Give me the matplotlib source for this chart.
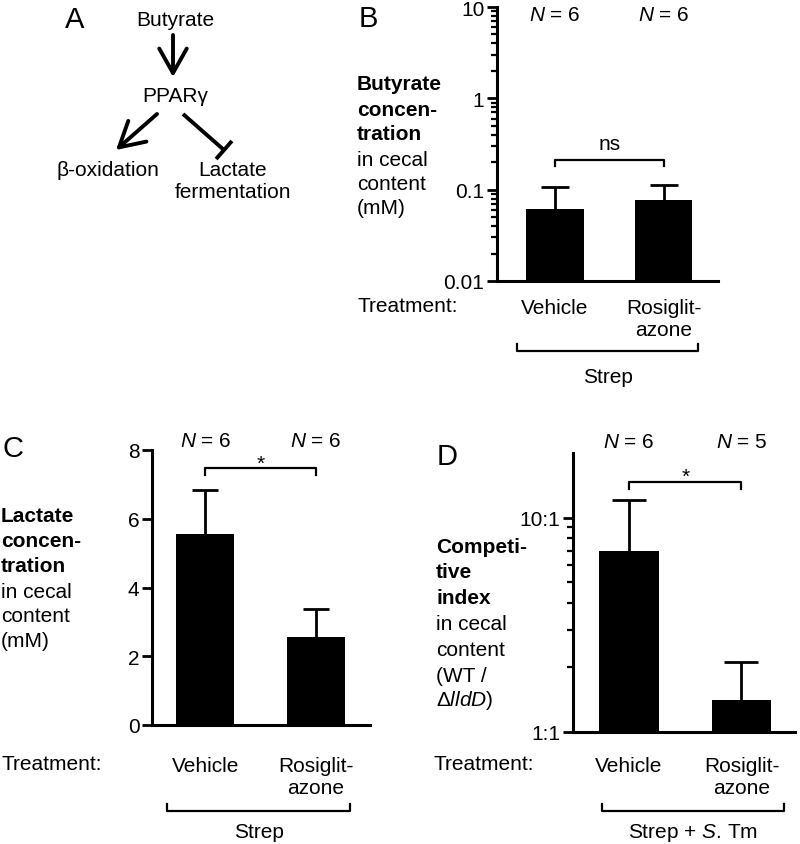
import matplotlib
matplotlib.use('Agg')
import matplotlib.pyplot as plt
import numpy as np
from matplotlib.ticker import LogLocator, NullFormatter, FixedLocator, FixedFormatter

plt.rcParams['font.family'] = 'Liberation Sans'
plt.rcParams['font.size'] = 15
plt.rcParams['mathtext.fontset'] = 'custom'
plt.rcParams['mathtext.rm'] = 'Liberation Sans'
plt.rcParams['mathtext.it'] = 'Liberation Sans:italic'
plt.rcParams['mathtext.bf'] = 'Liberation Sans:bold'

# data
groups = ['Vehicle', 'Rosiglit-\nazone']
butyrate_mean = [0.062, 0.078]
butyrate_top = [0.108, 0.113]
butyrate_n = [6, 6]
lactate_mean = [5.55, 2.56]
lactate_top = [6.83, 3.37]
lactate_n = [6, 6]
ci_mean = [6.95, 1.41]
ci_top = [12.1, 2.12]
ci_n = [6, 5]

W, H = 800, 845
fig = plt.figure(figsize=(W / 100, H / 100), dpi=100)


def fx(x):
    return x / W


def fy(y):
    return 1 - y / H


def ftext(x, y, s, **kw):
    kw.setdefault('va', 'center')
    fig.text(fx(x), fy(y), s, **kw)


def axes_px(left, top, right, bottom):
    return fig.add_axes([fx(left), fy(bottom), (right - left) / W, (bottom - top) / H])


def bar_panel(ax, means, tops, ns, n_y, sig_y, sig_drop, width, xlim, cap):
    x = np.arange(len(groups))
    ax.bar(x, means, width=width, color='black', zorder=2)
    err = np.array(tops) - np.array(means)
    # lower half is hidden behind the bar
    ax.errorbar(x, means, yerr=err, fmt='none', ecolor='black',
                elinewidth=2, capsize=cap, capthick=2, zorder=1)
    ax.set_xlim(*xlim)
    ax.set_xticks(x)
    ax.set_xticklabels(groups)
    for s in ['top', 'right']:
        ax.spines[s].set_visible(False)
    for s in ['left', 'bottom']:
        ax.spines[s].set_linewidth(2.2)
    ax.tick_params(axis='x', length=0, labelsize=15)
    ax.tick_params(axis='y', which='major', direction='out', length=7, width=2, labelsize=15, pad=2)
    ax.tick_params(axis='y', which='minor', direction='out', length=4, width=1.6)
    # N labels
    for xi, n in zip(x, ns):
        ax.text(xi, n_y, '$\\mathit{N}$ = %d' % n, transform=ax.get_xaxis_transform(),
                ha='center', va='center', clip_on=False)
    # significance bracket
    ax.plot([x[0], x[0], x[1], x[1]], [sig_drop, sig_y, sig_y, sig_drop], color='black', lw=1.6,
            clip_on=False)
    return x


# ---------------- Panel A ----------------
axA = fig.add_axes([0, fy(220), 330 / W, 220 / H])
axA.set_xlim(0, 330)
axA.set_ylim(220, 0)
axA.axis('off')
axA.text(75, 20, 'A', fontsize=21, ha='center', va='center')
axA.text(175, 20, 'Butyrate', ha='center', va='center')
axA.text(175, 97, 'PPAR\u03b3', ha='center', va='center')
axA.text(108, 170, '\u03b2-oxidation', ha='center', va='center')
axA.text(233, 170, 'Lactate', ha='center', va='center')
axA.text(233, 193, 'fermentation', ha='center', va='center')
arrow = dict(arrowstyle='->, head_length=0.8, head_width=0.45', lw=2.8, color='black',
             mutation_scale=22, shrinkA=0, shrinkB=0)
axA.annotate('', xy=(173, 78), xytext=(173, 36), arrowprops=arrow)
axA.annotate('', xy=(116, 151), xytext=(157, 115), arrowprops=arrow)
p0 = np.array([183, 115])
p1 = np.array([224, 151])
axA.plot([p0[0], p1[0]], [p0[1], p1[1]], color='black', lw=2.8, solid_capstyle='butt')
d = (p1 - p0) / np.hypot(*(p1 - p0))
perp = np.array([d[1], -d[0]]) * 12
axA.plot([p1[0] - perp[0], p1[0] + perp[0]], [p1[1] - perp[1], p1[1] + perp[1]],
         color='black', lw=2.8, solid_capstyle='butt')

# ---------------- Panel B ----------------
axB = axes_px(497, 8, 718, 282)
axB.set_yscale('log')
axB.set_ylim(0.01, 10)
xB = bar_panel(axB, butyrate_mean, butyrate_top, butyrate_n, 0.971, 0.21, 0.18,
               0.53, (-0.53, 1.50), 10)
axB.yaxis.set_major_locator(FixedLocator([0.01, 0.1, 1, 10]))
axB.yaxis.set_major_formatter(FixedFormatter(['0.01', '0.1', '1', '10']))
axB.yaxis.set_minor_locator(LogLocator(base=10, subs=np.arange(2, 10)))
axB.yaxis.set_minor_formatter(NullFormatter())
axB.tick_params(axis='x', pad=12)
axB.annotate('ns', xy=(0.5, 0.21), xytext=(0, 5), textcoords='offset points',
             ha='center', va='bottom')
ftext(368, 19, 'B', fontsize=21, ha='center')
for yy, s in zip([85, 110, 135], ['Butyrate', 'concen-', 'tration']):
    ftext(357, yy, s, fontweight='bold')
for yy, s in zip([160, 184, 209], ['in cecal', 'content', '(mM)']):
    ftext(357, yy, s)
ftext(357, 307, 'Treatment:')
tr = axB.get_xaxis_transform()
axB.plot([-0.35, -0.35, 1.32, 1.32], [-0.230, -0.2555, -0.2555, -0.230], transform=tr,
         color='black', lw=1.6, clip_on=False)
axB.text(0.486, -0.35, 'Strep', transform=tr, ha='center', va='center')

# ---------------- Panel C ----------------
axC = axes_px(152, 451, 370, 726)
axC.set_ylim(0, 8)
xC = bar_panel(axC, lactate_mean, lactate_top, lactate_n, 1.033, 7.47, 7.27,
               0.525, (-0.484, 1.489), 9.5)
axC.set_yticks([0, 2, 4, 6, 8])
axC.tick_params(axis='x', pad=22)
axC.annotate('*', xy=(0.5, 7.47), xytext=(0, -3), textcoords='offset points',
             ha='center', va='bottom')
ftext(13, 449, 'C', fontsize=21, ha='center')
for yy, s in zip([517, 542, 567], ['Lactate', 'concen-', 'tration']):
    ftext(1, yy, s, fontweight='bold')
for yy, s in zip([592, 617, 642], ['in cecal', 'content', '(mM)']):
    ftext(1, yy, s)
ftext(1, 765, 'Treatment:')
tr = axC.get_xaxis_transform()
axC.plot([-0.35, -0.35, 1.31, 1.31], [-0.287, -0.3127, -0.3127, -0.287], transform=tr,
         color='black', lw=1.6, clip_on=False)
axC.text(0.48, -0.389, 'Strep', transform=tr, ha='center', va='center')

# ---------------- Panel D ----------------
axD = axes_px(573, 454, 795, 733)
axD.set_yscale('log')
axD.set_ylim(1, 20)
xD = bar_panel(axD, ci_mean, ci_top, ci_n, 1.043, 14.7, 13.6,
               0.53, (-0.498, 1.476), 12)
axD.yaxis.set_major_locator(FixedLocator([1, 10]))
axD.yaxis.set_major_formatter(FixedFormatter(['1:1', '10:1']))
axD.yaxis.set_minor_locator(FixedLocator(np.arange(2, 10)))
axD.yaxis.set_minor_formatter(NullFormatter())
axD.tick_params(axis='x', pad=17)
axD.annotate('*', xy=(0.5, 14.7), xytext=(0, -3), textcoords='offset points',
             ha='center', va='bottom')
ftext(447, 457, 'D', fontsize=21, ha='center')
for yy, s in zip([548, 573, 599], ['Competi-', 'tive', 'index']):
    ftext(436, yy, s, fontweight='bold')
for yy, s in zip([625, 650, 676, 701], ['in cecal', 'content', '(WT /', '\u0394$\\mathit{lldD}$)']):
    ftext(436, yy, s)
ftext(433, 765, 'Treatment:')
tr = axD.get_xaxis_transform()
axD.plot([-0.24, -0.24, 1.38, 1.38], [-0.258, -0.283, -0.283, -0.258], transform=tr,
         color='black', lw=1.6, clip_on=False)
axD.text(0.57, -0.358, 'Strep + $\\mathit{S}$. Tm', transform=tr, ha='center', va='center')

fig.savefig('out.png', dpi=100)
